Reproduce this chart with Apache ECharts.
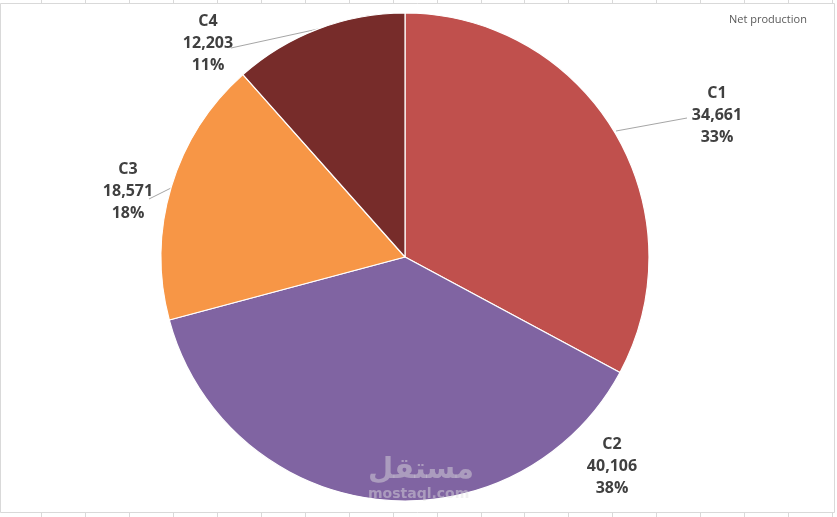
<!DOCTYPE html>
<html>
<head>
<meta charset="utf-8">
<script src="https://cdn.jsdelivr.net/npm/echarts@6/dist/echarts.min.js"></script>
<style>
html,body{margin:0;padding:0;background:#fff;}
#chart{width:837px;height:517px;}
</style>
</head>
<body>
<div id="chart"></div>
<script>
const categories = ["C1", "C2", "C3", "C4"];
const values = [34661, 40106, 18571, 12203];
const percentLabels = ["33%", "38%", "18%", "11%"];
const colors = ["#C0504D", "#8064A2", "#F79646", "#772C2A"];
const chartTitle = "Net production";

const chart = echarts.init(document.getElementById('chart'));

// label anchor positions (layout only)
const labelPos = [[717, 115], [612, 466], [128, 191], [208, 43]];
const linePts = [
  [[616, 131], [687, 118]],
  null,
  [[149, 199], [171, 188]],
  [[231, 48], [318, 29]]
];

// Excel cell grid decoration around the chart area
const gridEls = [];
gridEls.push({type:'rect', shape:{x:0.5, y:3.5, width:834, height:509}, style:{fill:'#fff', stroke:'#d9d9d9', lineWidth:1}, silent:true, z:-10});
for (let k = 0; k < 19; k++) {
  const x = Math.round(41 + 43.95 * k) + 0.5;
  if (x > 834) break;
  gridEls.push({type:'line', shape:{x1:x, y1:0, x2:x, y2:3}, style:{stroke:'#d9d9d9', lineWidth:1}, silent:true, z:-10});
  gridEls.push({type:'line', shape:{x1:x, y1:513, x2:x, y2:517}, style:{stroke:'#d9d9d9', lineWidth:1}, silent:true, z:-10});
}
gridEls.push({type:'text', left: 729, top: 14, style:{text: chartTitle, fontFamily:'Open Sans', fontSize: 11, fill:'#595959'}});
gridEls.push({type:'text', left: 368, top: 456, style:{text:'مستقل', fontFamily:'DejaVu Sans', fontWeight:'bold', fontSize: 29, fill:'rgba(225,225,225,0.45)'}, z: 100});
gridEls.push({type:'text', left: 368, top: 487, style:{text:'mostaql.com', fontFamily:'DejaVu Sans', fontWeight:'bold', fontSize: 14, fill:'rgba(225,225,225,0.45)'}, z: 100});

chart.setOption({
  backgroundColor: '#ffffff',
  animation: false,
  color: colors,
  graphic: gridEls,
  series: [{
    type: 'pie',
    center: [405, 257],
    radius: [0, 244],
    startAngle: 90,
    clockwise: true,
    itemStyle: { borderColor: '#ffffff', borderWidth: 1.2 },
    data: categories.map((c, i) => ({ name: c, value: values[i] })),
    label: {
      show: true,
      position: 'outside',
      formatter: p => p.name + '\n' + p.value.toLocaleString('en-US') + '\n' + percentLabels[p.dataIndex],
      fontFamily: 'Open Sans',
      fontWeight: 'bold',
      fontSize: 16,
      lineHeight: 22,
      color: '#404040',
      align: 'center'
    },
    labelLine: { show: true, lineStyle: { color: '#a6a6a6', width: 1 } },
    labelLayout: function (params) {
      const i = params.dataIndex;
      const r = {
        x: labelPos[i][0], y: labelPos[i][1],
        align: 'center', verticalAlign: 'middle'
      };
      if (linePts[i]) {
        r.labelLinePoints = [linePts[i][1], linePts[i][0], linePts[i][0]];
      } else {
        r.labelLinePoints = [[0,0],[0,0],[0,0]];
      }
      return r;
    }
  }]
});
</script>
</body>
</html>
